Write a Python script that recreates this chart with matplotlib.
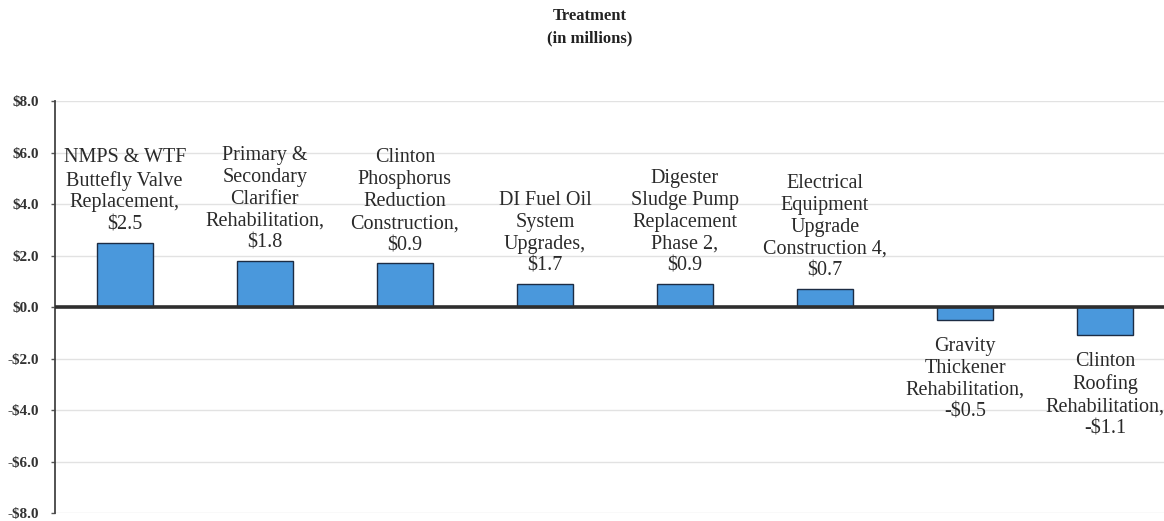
import matplotlib
matplotlib.use("Agg")
import matplotlib.pyplot as plt

# values (bar heights) and the printed label texts
projects = [
    "NMPS & WTF\nButtefly Valve\nReplacement,",
    "Primary &\nSecondary\nClarifier\nRehabilitation,",
    "Clinton\nPhosphorus\nReduction\nConstruction,",
    "DI Fuel Oil\nSystem\nUpgrades,",
    "Digester\nSludge Pump\nReplacement\nPhase 2,",
    "Electrical\nEquipment\nUpgrade\nConstruction 4,",
    "Gravity\nThickener\nRehabilitation,",
    "Clinton\nRoofing\nRehabilitation,",
]
values = [2.5, 1.8, 1.7, 0.9, 0.9, 0.7, -0.5, -1.1]
value_labels = ["$2.5", "$1.8", "$0.9", "$1.7", "$0.9", "$0.7", "-$0.5", "-$1.1"]
y_ticks = [-8, -6, -4, -2, 0, 2, 4, 6, 8]

serif = ["Liberation Serif", "DejaVu Serif"]

fig = plt.figure(figsize=(11.64, 5.21), dpi=100)
ax = fig.add_axes([0.047, 0.015, 0.953, 0.791])

x = list(range(len(values)))
ax.bar(x, values, width=0.4, color="#4a98dc", edgecolor="#1c2c44", linewidth=1.0, zorder=3)

for xi, v, name, lab in zip(x, values, projects, value_labels):
    txt = name + "\n" + lab
    off = 6 if v >= 0 else -12
    ax.annotate(txt, (xi, v), xytext=(0, off), textcoords="offset points",
                ha="center", va="bottom" if v >= 0 else "top",
                fontsize=14.5, family=serif, color="#2a2a2a",
                linespacing=1.21, zorder=4)

ax.set_xlim(-0.5, 7.42)
ax.set_ylim(-8, 8)
ax.set_yticks(y_ticks)
ax.set_yticklabels([f"${t:.1f}" if t >= 0 else f"-${-t:.1f}" for t in y_ticks],
                   fontsize=11, fontweight="bold", family=serif, color="#333333")
ax.set_xticks([])
ax.tick_params(axis="y", length=3, width=1, color="#555555", pad=8)

ax.grid(axis="y", color="#e2e2e2", linewidth=1, zorder=0)
ax.axhline(0, color="#2e2e2e", linewidth=2.6, zorder=5)

for s in ["top", "right", "bottom"]:
    ax.spines[s].set_visible(False)
ax.spines["left"].set_color("#444444")
ax.spines["left"].set_linewidth(1.3)

fig.text(0.507, 0.985, "Treatment\n(in millions)", ha="center", va="top",
         fontsize=12, fontweight="bold", family=serif, color="#222222", linespacing=1.55)

fig.savefig("out.png", dpi=100)
